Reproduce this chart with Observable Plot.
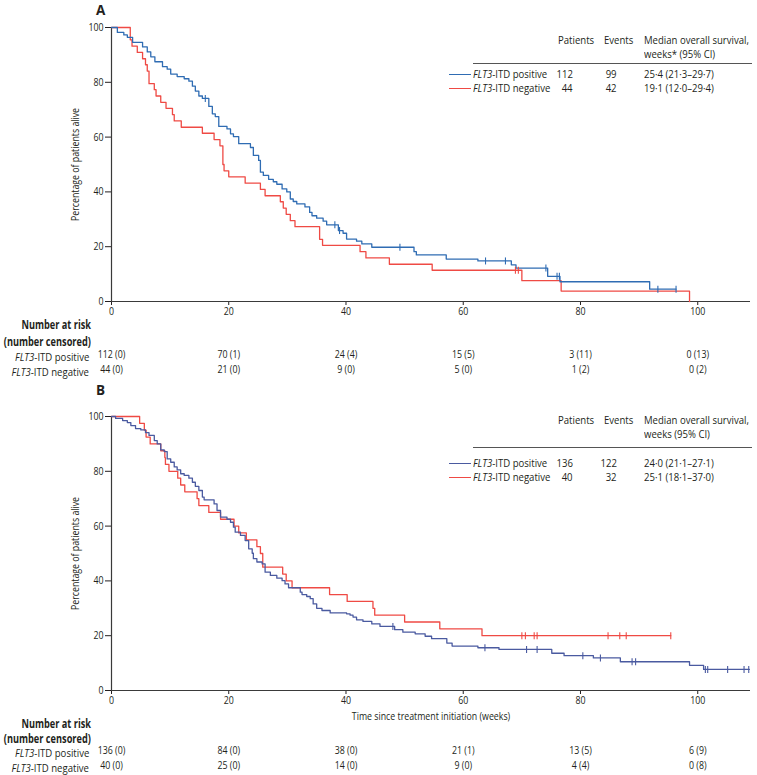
<!DOCTYPE html>
<html><head><meta charset="utf-8">
<script src="https://cdn.jsdelivr.net/npm/d3@7"></script>
<script src="https://cdn.jsdelivr.net/npm/@observablehq/plot@0.6"></script>
<style>
body{margin:0;background:#fff;}
#root{position:relative;width:757px;height:775px;overflow:hidden;font-family:"Open Sans","Noto Sans",sans-serif;color:#231f20;font-size:11px;}
.abs{position:absolute;white-space:nowrap;line-height:12px;height:12px;}
.panel{position:absolute;left:0;}
.lab{font-weight:bold;font-size:13.5px;line-height:14px;height:14px;}
.rule{position:absolute;height:0;border-top:1.3px solid #555;}
.sample{position:absolute;height:0;border-top:1.4px solid;}
</style></head><body><div id="root"></div>
<script>
// ---------- data ----------
const weekTicks = [0, 20, 40, 60, 80, 100];
const pctTicks = [0, 20, 40, 60, 80, 100];
const seriesNames = ["FLT3-ITD positive", "FLT3-ITD negative"];

// Panel A — FLT3-ITD positive
const aPosT = [0,1.0,2.1,2.7,3.6,5.3,6.1,6.7,7.4,8.7,9.5,10.1,11.2,12.4,13.2,13.8,14.3,14.9,15.5,16.6,17.2,17.7,18.3,19.7,20.3,20.8,21.7,23.7,24.2,25.1,25.4,25.9,26.8,27.6,28.2,29.1,29.9,30.5,31.0,31.6,33.0,33.8,34.2,35.0,36.1,36.7,38.7,39.5,40.1,41.8,42.7,44.4,51.6,52.0,57.1,62.5,68.2,69.0,74.4,76.5,91.8,96.3];
const aPosS = [100,98.2,97.3,96.4,94.6,92.9,91.1,89.3,87.5,85.7,84.8,83.0,82.1,81.3,80.4,78.6,76.8,75.0,74.1,71.2,68.5,67.5,63.9,63.0,61.2,60.2,57.6,56.2,53.3,51.5,47.2,46.0,44.6,43.7,42.8,41.1,40.0,37.4,36.5,35.6,34.5,32.5,31.3,30.4,29.3,28.0,25.9,24.9,22.8,22.0,21.0,19.8,18.2,17.0,15.5,14.8,13.4,12.2,9.2,7.2,4.5,4.5];
const aPosCensored = [16.0,38.1,38.9,49.2,63.8,67.2,74.1,76.0,76.4,93.2,96.3];
// Panel A — FLT3-ITD negative
const aNegT = [0,3.2,3.5,4.4,5.3,5.8,6.1,6.4,7.3,7.6,8.4,9.3,10.4,10.7,11.9,15.5,17.5,18.5,19.0,19.2,20.0,22.8,25.4,26.2,28.8,29.3,29.8,30.5,31.3,35.5,36.0,42.4,43.4,47.4,54.7,70.0,76.7,98.6];
const aNegS = [100,95.5,93.2,90.9,88.6,86.4,84.1,79.5,77.3,75.0,72.7,70.5,68.2,65.9,63.6,61.4,59.1,56.8,50.0,47.7,45.5,43.2,40.9,38.6,36.4,34.1,31.8,29.5,27.3,22.7,20.5,18.2,15.9,13.6,11.4,7.6,3.8,0];
const aNegCensored = [68.9,69.4];

// Panel B — FLT3-ITD positive
const bPosT = [0,0.7,1.9,2.7,3.3,4.1,5.0,5.8,6.4,7.3,7.8,8.4,9.0,9.5,10.1,10.7,11.2,11.8,12.4,13.2,13.8,14.3,14.9,15.5,15.8,17.5,18.0,18.6,19.7,20.3,20.8,21.1,22.0,22.8,23.4,24.0,24.2,24.8,25.7,26.2,27.1,28.2,29.1,29.6,30.2,32.2,32.5,33.3,33.9,34.4,35.0,35.9,37.3,40.1,40.7,41.2,41.8,42.9,44.4,45.8,48.3,49.7,51.8,53.5,54.6,57.2,58.1,62.5,66.1,75.1,77.2,82.2,86.8,98.6,101.0,108.8];
const bPosS = [100,99.3,98.5,97.8,96.7,95.6,95.1,94.1,93.1,91.2,90.0,87.8,87.2,84.5,83.3,81.6,80.5,79.1,78.5,77.5,76.0,74.5,73.0,70.6,69.6,68.1,65.7,63.3,62.5,61.4,59.6,57.8,56.6,54.7,51.7,50.1,48.1,46.9,46.2,43.2,42.0,41.0,40.1,38.9,37.5,35.9,35.0,34.3,33.5,31.6,30.0,29.2,28.3,28.0,27.5,26.8,25.8,25.2,24.3,23.4,22.2,21.3,20.7,19.8,18.9,17.3,16.2,15.6,15.0,13.6,12.7,11.9,10.5,9.2,7.7,7.7];
const bPosCensored = [48.0,63.7,70.8,72.6,80.4,83.4,88.8,89.4,101.3,101.7,105.1,107.9,108.7];
// Panel B — FLT3-ITD negative
const bNegT = [0,4.8,5.6,5.9,6.6,8.4,9.1,9.2,9.8,11.3,11.8,12.5,14.6,14.9,16.6,18.6,20.9,21.7,23.0,24.8,25.4,25.8,29.2,29.8,30.8,37.2,40.2,44.6,44.9,50.0,56.0,63.2,95.4];
const bNegS = [100,97.5,95,92.5,90,87.5,85,82.5,80,77.5,75,72.5,70,67.5,65,62.5,60,57.5,55,52.5,50,45,42.5,40,37.5,35,32.5,30,27.5,25,22.5,20,20];
const bNegCensored = [70.0,70.6,72.1,72.6,84.7,86.7,87.8,95.4];

// Numbers at risk (number censored)
const aPosAtRisk = [112,70,24,15,3,0], aPosCens = [0,1,4,5,11,13];
const aNegAtRisk = [44,21,9,5,1,0],   aNegCens = [0,0,0,0,2,2];
const bPosAtRisk = [136,84,38,21,13,6], bPosCens = [0,0,0,1,5,9];
const bNegAtRisk = [40,25,14,9,4,0],   bNegCens = [0,0,0,0,4,8];

// Legend tables
const aPatients = [112,44], aEvents = [99,42], aMedian = ["25·4 (21·3–29·7)","19·1 (12·0–29·4)"];
const bPatients = [136,40], bEvents = [122,32], bMedian = ["24·0 (21·1–27·1)","25·1 (18·1–37·0)"];

// ---------- drawing ----------
const FONT = '"Open Sans","Noto Sans",sans-serif';
const SVG_SQUEEZE = 0.8, HTML_SQUEEZE = 0.87, BOLD_SQUEEZE = 0.8; // condensed look
const RED = "#ef4a44";
const root = document.getElementById("root");

const tickSymbol = {draw(ctx, size){ const h = Math.sqrt(size/Math.PI); ctx.moveTo(0,-h); ctx.lineTo(0,h); }};
const toRows = (T,S) => T.map((t,i)=>({t, s:S[i]}));
function stepAt(T,S,t){ let v = S[0]; for (let i=0;i<T.length;i++){ if (T[i] <= t) v = S[i]; } return v; }
const censRows = (C,T,S) => C.map(t=>({t, s:stepAt(T,S,t)}));

function squeezeSvgText(svg){
  svg.querySelectorAll("text").forEach(el=>{
    const t = el.getAttribute("transform") || "";
    const xs = el.getAttribute("x");
    const x = xs && /^-?[\d.]+(px)?$/.test(xs.trim()) ? parseFloat(xs) : 0;
    el.setAttribute("transform", `${t} translate(${x},0) scale(${SVG_SQUEEZE},1) translate(${-x},0)`);
  });
}

function panel(o){
  const p = Plot.plot({
    width:757, height:o.height, marginTop:o.mt, marginBottom:o.mb, marginLeft:111, marginRight:7,
    style:{fontFamily:FONT, fontSize:"11px", color:"#231f20", background:"transparent", overflow:"visible"},
    x:{domain:[0,109], ticks:weekTicks, tickSize:4, tickPadding:2, label:null},
    y:{domain:[0,100], ticks:pctTicks, tickSize:6, tickPadding:2, label:"Percentage of patients alive", labelAnchor:"center", labelArrow:false, labelOffset:40},
    marks:[
      Plot.ruleY([0], {stroke:"#3a3a3a", strokeWidth:1.2}),
      Plot.ruleX([0], {stroke:"#3a3a3a", strokeWidth:1.2}),
      Plot.line(toRows(o.negT,o.negS), {x:"t", y:"s", curve:"step-after", stroke:RED, strokeWidth:1.3}),
      Plot.line(toRows(o.posT,o.posS), {x:"t", y:"s", curve:"step-after", stroke:o.blue, strokeWidth:1.3}),
      Plot.dot(censRows(o.negC,o.negT,o.negS), {x:"t", y:"s", symbol:tickSymbol, r:3.5, stroke:RED, strokeWidth:1.1, fill:"none"}),
      Plot.dot(censRows(o.posC,o.posT,o.posS), {x:"t", y:"s", symbol:tickSymbol, r:3.5, stroke:o.blue, strokeWidth:1.1, fill:"none"}),
      Plot.text(weekTicks, {x:d=>d, frameAnchor:"bottom", dy:o.rowPos, text:(d,i)=>`${o.posRisk[i]} (${o.posCens[i]})`, fill:"#231f20"}),
      Plot.text(weekTicks, {x:d=>d, frameAnchor:"bottom", dy:o.rowNeg, text:(d,i)=>`${o.negRisk[i]} (${o.negCens[i]})`, fill:"#231f20"}),
      ...(o.xLabel ? [Plot.text([o.xLabel], {frameAnchor:"bottom", dy:o.xLabelDy, fill:"#231f20"})] : [])
    ]
  });
  squeezeSvgText(p);
  p.classList.add("panel");
  p.style.top = o.top + "px";
  root.appendChild(p);
}

function add(html, css, squeeze = HTML_SQUEEZE){
  const d = document.createElement("div"); d.className = "abs"; d.innerHTML = html; Object.assign(d.style, css);
  if (squeeze){ d.style.transform = `scaleX(${squeeze})`; d.style.transformOrigin = css.right ? "right center" : "left center"; }
  root.appendChild(d); return d;
}
function ital(name){ return name.replace("FLT3", "<i>FLT3</i>"); }

function extras(o){
  add(o.letter, {left:"96px", top:(o.top+3)+"px"}, 0).classList.add("lab");
  // risk table labels
  add("<b>Number at risk</b>", {right:(757-91)+"px", top:(o.riskY[0]-6)+"px", fontSize:"11.5px"}, BOLD_SQUEEZE);
  add("<b>(number censored)</b>", {right:(757-91)+"px", top:(o.riskY[1]-6)+"px", fontSize:"11.5px"}, BOLD_SQUEEZE);
  add(ital(seriesNames[0]), {right:(757-89)+"px", top:(o.riskY[2]-6)+"px"});
  add(ital(seriesNames[1]), {right:(757-89)+"px", top:(o.riskY[3]-6)+"px"});
  // legend table
  const L = o.leg;
  add("Patients", {left:"558px", top:(L.h1-6)+"px"});
  add("Events", {left:"604px", top:(L.h1-6)+"px"});
  add("Median overall survival,", {left:"644px", top:(L.h1-6)+"px"});
  add(o.weeksTxt, {left:"644px", top:(L.h2-6)+"px"});
  const r = document.createElement("div"); r.className = "rule"; Object.assign(r.style, {left:"473px", width:"279px", top:L.rule+"px"}); root.appendChild(r);
  [0,1].forEach(i=>{
    const y = L.rows[i];
    const s = document.createElement("div"); s.className = "sample"; Object.assign(s.style, {left:"449px", width:"22px", top:y+"px", borderColor: i===0 ? o.blue : RED}); root.appendChild(s);
    add(ital(seriesNames[i]), {left:"473px", top:(y-6)+"px"});
    add(String(o.patients[i]), {right:(757-573)+"px", top:(y-6)+"px"});
    add(String(o.events[i]), {right:(757-617)+"px", top:(y-6)+"px"});
    add(o.median[i], {left:"644px", top:(y-6)+"px"});
  });
}

const A = {top:0, height:380, mt:27, mb:79, blue:"#2f6cb3",
  posT:aPosT, posS:aPosS, posC:aPosCensored, negT:aNegT, negS:aNegS, negC:aNegCensored,
  posRisk:aPosAtRisk, posCens:aPosCens, negRisk:aNegAtRisk, negCens:aNegCens,
  rowPos:56, rowNeg:71, letter:"A", riskY:[325,342,357,372],
  leg:{h1:40, h2:54, rule:63, rows:[74,88]}, weeksTxt:"weeks* (95% CI)",
  patients:aPatients, events:aEvents, median:aMedian};
const B = {top:380, height:395, mt:36, mb:85, blue:"#4a5aa0",
  posT:bPosT, posS:bPosS, posC:bPosCensored, negT:bNegT, negS:bNegS, negC:bNegCensored,
  posRisk:bPosAtRisk, posCens:bPosCens, negRisk:bNegAtRisk, negCens:bNegCens,
  rowPos:63, rowNeg:78, xLabel:"Time since treatment initiation (weeks)", xLabelDy:29,
  letter:"B", riskY:[724,739,753,768],
  leg:{h1:420, h2:434, rule:447, rows:[463,477]}, weeksTxt:"weeks (95% CI)",
  patients:bPatients, events:bEvents, median:bMedian};

panel(A); panel(B);
extras(A); extras(B);
</script></body></html>
